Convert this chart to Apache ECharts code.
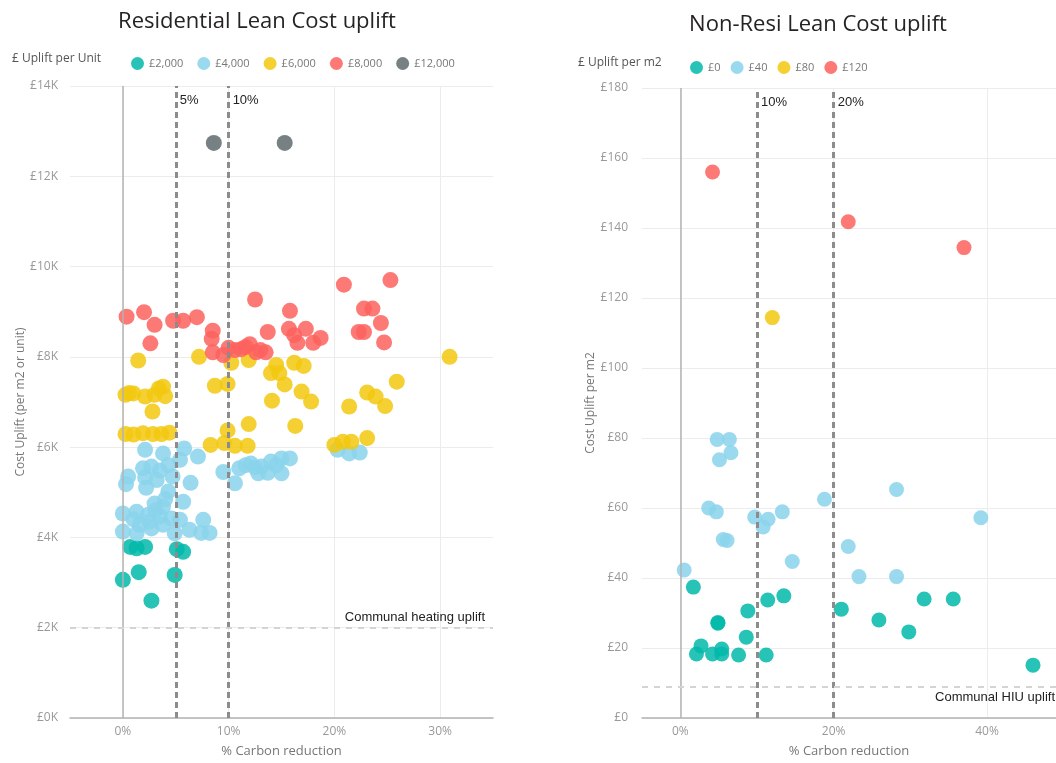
<!DOCTYPE html>
<html>
<head>
<meta charset="utf-8">
<script src="https://cdn.jsdelivr.net/npm/echarts@6/dist/echarts.min.js"></script>
<style>
  html, body { margin: 0; padding: 0; background: #fff; }
  #chart { width: 1056px; height: 763px; }
</style>
</head>
<body>
<div id="chart"></div>
<script>
// residential chart: [% carbon reduction, £ uplift per unit]
const resGreen = [[0.7,3790],[1.3,3760],[2.1,3790],[5.1,3740],[5.7,3680],[0.0,3060],[1.5,3230],[4.9,3170],[2.7,2600]];
const resBlue = [
  [2.1,5940],[3.8,5860],[5.8,5970],[7.1,5790],[5.4,5720],[1.9,5530],[2.7,5570],[4.3,5600],[0.5,5350],[0.3,5180],
  [2.1,5330],[3.2,5270],[4.7,5350],[6.4,5210],[4.3,5020],[5.7,4790],[3.0,4750],[3.8,4680],[0.0,4530],[1.3,4570],
  [2.4,4500],[3.5,4460],[4.6,4420],[5.4,4390],[7.6,4390],[0.0,4130],[1.3,4090],[2.7,4200],[3.8,4280],[4.9,4090],
  [6.3,4170],[7.4,4100],[8.2,4100],[1.6,4280],[2.5,4350],[3.1,4600],[4.0,4850],[1.0,4400],[2.2,5100],[3.5,5480],
  [9.5,5450],[10.6,5200],[11.0,5530],[12.1,5640],[13.1,5570],[14.0,5680],[15.0,5750],[15.8,5750],[12.8,5420],
  [13.7,5430],[15.0,5420],[12.5,5550],[14.5,5600],[11.6,5600],[20.3,5940],[21.4,5860],[22.4,5880]
];
const resYellow = [
  [1.45,7920],[7.2,8000],[10.25,7870],[11.9,7930],[14.5,7820],[16.2,7870],[17.1,7800],[14.0,7640],[14.8,7640],
  [15.3,7390],[16.9,7230],[17.8,7010],[14.1,7030],[8.7,7360],[9.9,7400],[0.25,7160],[0.6,7200],[1.0,7190],
  [2.1,7120],[3.0,7160],[3.4,7300],[3.8,7340],[4.0,7130],[2.8,6790],[0.25,6290],[1.0,6280],[1.9,6310],[2.85,6290],
  [3.65,6290],[4.4,6320],[11.9,6510],[9.9,6370],[8.3,6050],[9.6,6090],[10.6,6030],[11.8,6030],[16.3,6470],
  [21.4,6900],[23.1,7210],[23.9,7120],[24.8,6910],[25.9,7450],[20.0,6050],[20.8,6120],[21.6,6120],[23.1,6200],
  [30.9,8000]
];
const resRed = [
  [0.35,8890],[2.0,8990],[3.0,8710],[2.6,8300],[4.75,8800],[5.7,8800],[7.0,8880],[8.5,8580],[8.4,8400],[8.5,8100],
  [9.5,8040],[10.0,8200],[10.6,8150],[11.2,8170],[11.6,8220],[12.0,8280],[12.6,8100],[13.0,8150],[13.5,8100],
  [12.5,9270],[13.7,8550],[15.8,9020],[15.7,8620],[16.2,8480],[17.3,8620],[16.5,8310],[18.0,8310],[18.7,8420],
  [20.9,9600],[25.3,9700],[22.8,9070],[23.6,9070],[24.4,8750],[22.3,8550],[22.8,8550],[24.7,8320]
];
const resGrey = [[8.6,12740],[15.3,12740]];

// non-resi chart: [% carbon reduction, £ uplift per m2]
const nrGreen = [
  [1.7,37.4],[4.9,27.1],[4.9,27.3],[8.8,30.6],[11.4,33.7],[13.5,34.9],[8.6,23.1],[2.7,20.6],[2.1,18.3],[4.2,18.3],
  [5.4,19.7],[5.4,18.3],[7.6,18.0],[11.2,18.0],[21.0,31.1],[25.9,28.0],[29.8,24.6],[31.8,34.0],[35.6,34.0],[46.0,15.1]
];
const nrBlue = [
  [0.5,42.3],[3.7,60.0],[4.8,79.6],[6.4,79.6],[5.1,73.8],[6.6,75.8],[4.7,58.9],[5.6,51.0],[6.1,50.7],[9.7,57.4],
  [11.45,56.8],[10.8,54.6],[13.3,58.9],[18.8,62.5],[14.6,44.7],[21.9,49.0],[28.2,65.3],[39.2,57.2],[23.3,40.4],[28.2,40.4]
];
const nrYellow = [[12.0,114.4]];
const nrRed = [[4.2,156],[21.9,141.8],[37.0,134.4]];

const resNames = ['£2,000','£4,000','£6,000','£8,000','£12,000'];
const nrNames = ['£0','£40','£80','£120'];
const resXTicks = [0, 10, 20, 30];
const nrXTicks = [0, 20, 40];
const resVLines = [5, 10];
const nrVLines = [10, 20];
const resHLine = 2000;
const nrHLine = 9;

const colors = ['#01B8AA', '#8AD4EB', '#F2C80F', '#FD625E', '#5F6B6D'];
const uiFont = "'Segoe UI', 'Open Sans', sans-serif";
const annFont = "'Liberation Sans', Arial, sans-serif";

const dom = document.getElementById('chart');
const chart = echarts.init(dom, null, {renderer: 'canvas'});

const dotSeries = (name, data, idx, color, size) => ({
  name, type: 'scatter', data,
  xAxisIndex: idx, yAxisIndex: idx,
  symbolSize: size, z: 3,
  itemStyle: {color, opacity: 0.85},
  emphasis: {disabled: true}
});

const refSeries = (idx, vlines, hline, hlabel, hpos, hdist, ytop) => ({
  type: 'scatter', data: [], xAxisIndex: idx, yAxisIndex: idx, z: 1, silent: true,
  markLine: {
    symbol: ['none', 'none'], silent: true, animation: false,
    data: [
      {xAxis: 0, lineStyle: {type: 'solid', color: '#b3b3b3', width: 1.5}, label: {show: false}},
      ...vlines.map(v => ({xAxis: v, lineStyle: {type: [6, 4], color: '#8c8c8c', width: 3}, label: {show: false}})),
      {yAxis: hline, lineStyle: {type: [6, 6], color: '#d4d4d4', width: 2},
        label: {show: true, formatter: hlabel, position: hpos, color: '#222', fontSize: 13, fontFamily: annFont, distance: hdist}}
    ]
  },
  markPoint: {
    symbol: 'circle', symbolSize: 0, silent: true, animation: false,
    label: {show: true, position: 'right', distance: 4, formatter: '{b}', color: '#222', fontSize: 13, fontFamily: annFont},
    data: vlines.map(v => ({name: v + '%', coord: [v, ytop]}))
  }
});

const xAxisBase = (idx, max, ticks) => ({
  type: 'value', gridIndex: idx, min: -5, max,
  name: '% Carbon reduction', nameLocation: 'middle', nameGap: 27,
  nameTextStyle: {color: '#777', fontSize: 13, fontFamily: uiFont},
  axisLine: {show: true, lineStyle: {color: '#b3b3b3', width: 1.5}},
  axisTick: {show: false, customValues: ticks},
  axisLabel: {customValues: ticks, color: '#999', fontSize: 12, fontFamily: uiFont, margin: 8, formatter: v => v + '%'},
  splitLine: {show: true, lineStyle: {color: '#ececec', width: 1}}
});

const yAxisBase = (idx, max, interval, name, fmt, margin) => ({
  type: 'value', gridIndex: idx, min: 0, max, interval,
  name, nameLocation: 'middle', nameGap: 43,
  nameTextStyle: {color: '#777', fontSize: 12, fontFamily: uiFont},
  axisLine: {show: false}, axisTick: {show: false},
  axisLabel: {color: '#999', fontSize: 12, fontFamily: uiFont, margin, formatter: fmt},
  splitLine: {show: true, lineStyle: {color: '#ececec', width: 1}}
});

const option = {
  backgroundColor: '#fff',
  animation: false,
  graphic: [
    {type: 'text', x: 257, y: 22, style: {text: 'Residential Lean Cost uplift', fill: '#252423', font: `22px ${uiFont}`, align: 'center', verticalAlign: 'middle'}},
    {type: 'text', x: 818, y: 25, style: {text: 'Non-Resi Lean Cost uplift', fill: '#252423', font: `22px ${uiFont}`, align: 'center', verticalAlign: 'middle'}},
    {type: 'text', x: 12, y: 59, style: {text: '£ Uplift per Unit', fill: '#555', font: `12px ${uiFont}`, verticalAlign: 'middle'}},
    {type: 'text', x: 578, y: 63, style: {text: '£ Uplift per m2', fill: '#555', font: `12px ${uiFont}`, verticalAlign: 'middle'}}
  ],
  legend: [
    {data: resNames, left: 126, top: 52, icon: 'circle', itemWidth: 13, itemHeight: 13, itemGap: 14,
      selectedMode: false, textStyle: {color: '#777', fontSize: 11, fontFamily: uiFont}},
    {data: nrNames, left: 685, top: 56, icon: 'circle', itemWidth: 13, itemHeight: 13, itemGap: 10,
      selectedMode: false, textStyle: {color: '#777', fontSize: 11, fontFamily: uiFont}}
  ],
  grid: [
    {left: 70, top: 86, width: 423, height: 633},
    {left: 642, top: 88, width: 414, height: 631}
  ],
  xAxis: [xAxisBase(0, 35, resXTicks), xAxisBase(1, 49, nrXTicks)],
  yAxis: [
    yAxisBase(0, 14000, 2000, 'Cost Uplift (per m2 or unit)', v => '£' + (v / 1000) + 'K', 12),
    yAxisBase(1, 180, 20, 'Cost Uplift per m2', v => '£' + v, 14)
  ],
  series: [
    refSeries(0, resVLines, resHLine, 'Communal heating uplift', 'insideEndTop', [8, 4], 13690),
    refSeries(1, nrVLines, nrHLine, 'Communal HIU uplift', 'insideEndBottom', [1, 4], 176),
    dotSeries(resNames[0], resGreen, 0, colors[0], 16),
    dotSeries(resNames[1], resBlue, 0, colors[1], 16),
    dotSeries(resNames[2], resYellow, 0, colors[2], 16),
    dotSeries(resNames[3], resRed, 0, colors[3], 16),
    dotSeries(resNames[4], resGrey, 0, colors[4], 16),
    dotSeries(nrNames[0], nrGreen, 1, colors[0], 15),
    dotSeries(nrNames[1], nrBlue, 1, colors[1], 15),
    dotSeries(nrNames[2], nrYellow, 1, colors[2], 15),
    dotSeries(nrNames[3], nrRed, 1, colors[3], 15)
  ]
};

chart.setOption(option);
</script>
</body>
</html>
